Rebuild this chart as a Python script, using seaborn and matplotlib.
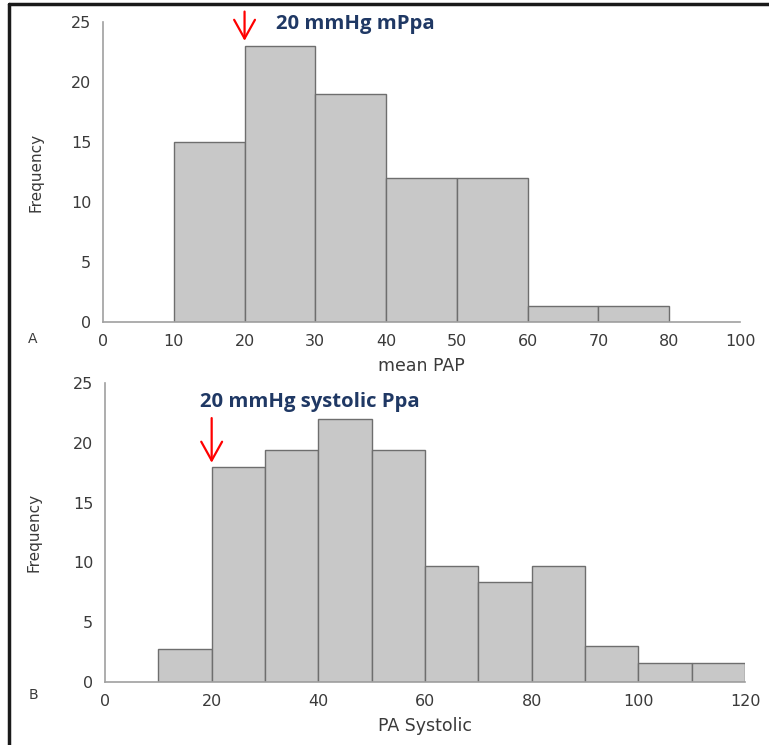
import matplotlib
matplotlib.use("Agg")
import matplotlib.pyplot as plt
import seaborn as sns
import numpy as np
from matplotlib.lines import Line2D

# data
pap_edges = [10, 20, 30, 40, 50, 60, 70, 80]
pap_freq = [15, 23, 19, 12, 12, 1.3, 1.3]
pap_ticks = [0, 10, 20, 30, 40, 50, 60, 70, 80, 90]
pap_ticklabels = ["0", "10", "20", "30", "40", "50", "60", "70", "80", "100"]

sys_edges = [10, 20, 30, 40, 50, 60, 70, 80, 90, 100, 110, 120]
sys_freq = [2.8, 18, 19.4, 22, 19.4, 9.7, 8.4, 9.7, 3.0, 1.6, 1.6]
sys_ticks = [0, 20, 40, 60, 80, 100, 120]

y_ticks = [0, 5, 10, 15, 20, 25]

sns.set_style("white")
plt.rcParams["font.family"] = ["DejaVu Sans"]

W, H = 769, 745
fig = plt.figure(figsize=(W / 100, H / 100), dpi=100)


def px_axes(left, top, right, bottom):
    return fig.add_axes([left / W, 1 - bottom / H, (right - left) / W, (bottom - top) / H])


ax1 = px_axes(103, 22, 740, 322)
ax2 = px_axes(105, 383, 745, 682)

bar_kw = dict(color="#c8c8c8", edgecolor="#6e6e6e", linewidth=1.0, alpha=1)

mid = lambda e: [(a + b) / 2 for a, b in zip(e[:-1], e[1:])]
sns.histplot(x=mid(pap_edges), weights=pap_freq, bins=pap_edges, ax=ax1, **bar_kw)
sns.histplot(x=mid(sys_edges), weights=sys_freq, bins=sys_edges, ax=ax2, **bar_kw)

grey_txt = "#3a3a3a"
for ax in (ax1, ax2):
    for s in ("top", "right"):
        ax.spines[s].set_visible(False)
    for s in ("left", "bottom"):
        ax.spines[s].set_color("#a0a0a0")
        ax.spines[s].set_linewidth(1.2)
    ax.set_ylim(0, 25)
    ax.set_yticks(y_ticks)
    ax.tick_params(axis="y", direction="in", length=11, width=1, color="#b0b0b0",
                   pad=8.5, labelsize=11.5, labelcolor=grey_txt)
    ax.tick_params(axis="x", length=0, pad=9, labelsize=11.5, labelcolor=grey_txt)
    ax.set_ylabel("Frequency", fontsize=11, color=grey_txt)
    ax.set_facecolor("none")

ax1.set_xlim(0, 90)
ax1.set_xticks(pap_ticks)
ax1.set_xticklabels(pap_ticklabels)
ax1.set_xlabel("mean PAP", fontsize=12.5, color=grey_txt)
ax1.xaxis.set_label_coords(0.5, -0.118)
ax1.yaxis.set_label_coords(-0.093, 0.5)

ax2.set_xlim(0, 120)
ax2.set_xticks(sys_ticks)
ax2.set_xlabel("PA Systolic", fontsize=12.5, color=grey_txt)
ax2.xaxis.set_label_coords(0.5, -0.118)
ax2.yaxis.set_label_coords(-0.1, 0.5)

# annotations
navy = "#1f3864"
arrow = dict(arrowstyle="->,head_length=1.35,head_width=0.75", color="red", lw=1.6)
ax1.annotate("", xy=(20, 23.2), xytext=(20, 26.1), annotation_clip=False, arrowprops=arrow)
ax1.text(24.4, 24.85, "20 mmHg mPpa", fontsize=14.6, fontweight="bold", color=navy,
         family=["Open Sans", "DejaVu Sans"], va="center", ha="left", clip_on=False)

ax2.annotate("", xy=(20, 18.1), xytext=(20, 22.3), annotation_clip=False, arrowprops=arrow)
ax2.text(17.9, 23.45, "20 mmHg systolic Ppa", fontsize=14.6, fontweight="bold", color=navy,
         family=["Open Sans", "DejaVu Sans"], va="center", ha="left", clip_on=False)

fig.text(33 / W, 1 - 339 / H, "A", fontsize=10, color=grey_txt, ha="center", va="center")
fig.text(33 / W, 1 - 695 / H, "B", fontsize=10, color=grey_txt, ha="center", va="center")

# frame around the figure
fig.add_artist(Line2D([9 / W, 1], [1 - 4 / H, 1 - 4 / H], color="#1a1a1a", lw=2.5))
fig.add_artist(Line2D([9 / W, 9 / W], [0, 1 - 4 / H], color="#1a1a1a", lw=2.5))

fig.savefig("out.png", dpi=100)
